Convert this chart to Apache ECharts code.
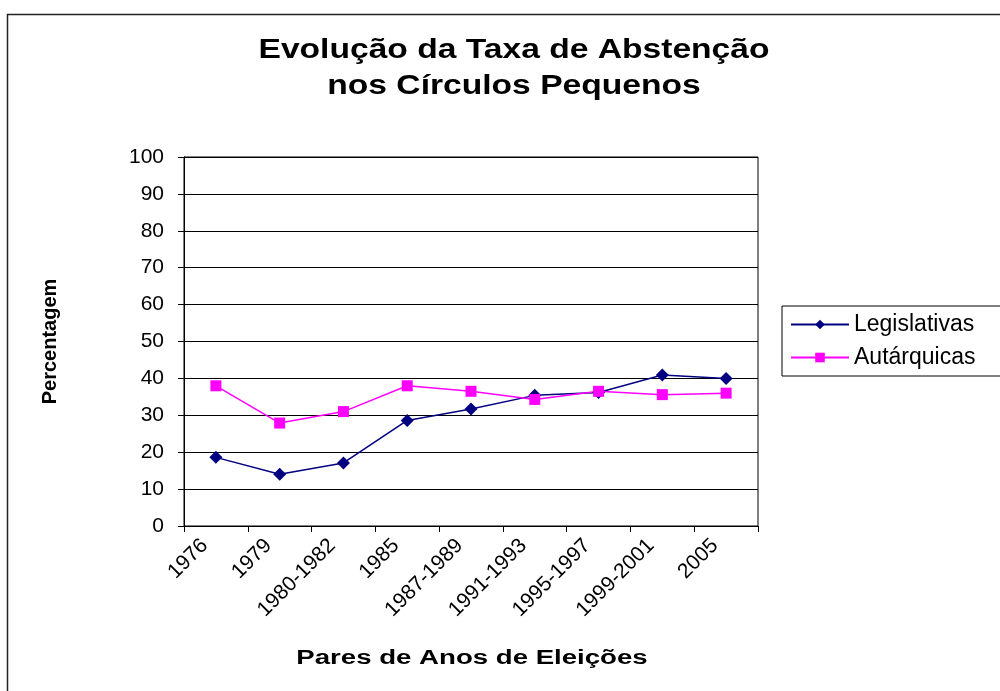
<!DOCTYPE html>
<html>
<head>
<meta charset="utf-8">
<script src="https://cdn.jsdelivr.net/npm/echarts@6/dist/echarts.min.js"></script>
<style>html,body{margin:0;padding:0;background:#fff;}#c{width:1000px;height:691px;}</style>
</head>
<body>
<div id="c"></div>
<script>
var categories = ['1976', '1979', '1980-1982', '1985', '1987-1989', '1991-1993', '1995-1997', '1999-2001', '2005'];
var legislativas = [18.6, 14.0, 17.1, 28.6, 31.7, 35.4, 36.2, 40.9, 40.0];
var autarquicas = [38.0, 27.9, 31.0, 38.0, 36.5, 34.3, 36.5, 35.6, 36.0];
var yTicks = {min: 0, max: 100, interval: 10};
var titleLines = ['Evolução da Taxa de Abstenção', 'nos Círculos Pequenos'];
var xName = 'Pares de Anos de Eleições';
var yName = 'Percentagem';

var FONT = '"Liberation Sans", Arial, sans-serif';
var chart = echarts.init(document.getElementById('c'));
chart.setOption({
  animation: false,
  backgroundColor: '#fff',
  graphic: [{
    type: 'rect', left: 5, top: 12,
    shape: {width: 1100, height: 800},
    style: {fill: 'none', stroke: '#222', lineWidth: 1.5},
    silent: true, z: -10
  }, {
    type: 'text', x: 514, y: 50, scaleX: 1.2,
    style: {text: titleLines[0], font: 'bold 28px ' + FONT, fill: '#000', textAlign: 'center', textVerticalAlign: 'middle'}
  }, {
    type: 'text', x: 514, y: 86, scaleX: 1.2,
    style: {text: titleLines[1], font: 'bold 28px ' + FONT, fill: '#000', textAlign: 'center', textVerticalAlign: 'middle'}
  }, {
    type: 'text', x: 472, y: 658, scaleX: 1.38,
    style: {text: xName, font: 'bold 20px ' + FONT, fill: '#000', textAlign: 'center', textVerticalAlign: 'middle'}
  }],
  legend: {
    orient: 'vertical', left: 782, top: 306,
    borderColor: '#000', borderWidth: 1, padding: [7, 40, 7, 8],
    itemWidth: 58, itemHeight: 12, itemGap: 10,
    textStyle: {fontFamily: FONT, fontSize: 23, color: '#000'},
    data: ['Legislativas', 'Autárquicas']
  },
  grid: {left: 184, right: 242, top: 157, bottom: 165, show: true, borderColor: '#000', borderWidth: 1, backgroundColor: '#fff'},
  xAxis: {
    type: 'category', data: categories, boundaryGap: true,
    axisLine: {lineStyle: {color: '#000', width: 1}},
    axisTick: {show: true, length: 6, lineStyle: {color: '#000'}},
    axisLabel: {rotate: 45, fontFamily: FONT, fontSize: 21, color: '#000', margin: 5, padding: [0, 16, 0, 0], interval: 0}
  },
  yAxis: {
    type: 'value', min: yTicks.min, max: yTicks.max, interval: yTicks.interval,
    name: yName, nameLocation: 'middle', nameGap: 124, nameRotate: 90,
    nameTextStyle: {fontFamily: FONT, fontSize: 20, fontWeight: 'bold', color: '#000'},
    axisLine: {show: true, lineStyle: {color: '#000', width: 1}},
    axisTick: {show: true, length: 6, lineStyle: {color: '#000'}},
    axisLabel: {fontFamily: FONT, fontSize: 21, color: '#000', margin: 20},
    splitLine: {show: true, lineStyle: {color: '#000', width: 1}}
  },
  series: [{
    name: 'Legislativas', type: 'line', data: legislativas,
    symbol: 'diamond', symbolSize: 13,
    lineStyle: {color: '#000080', width: 1.5},
    itemStyle: {color: '#000080'}
  }, {
    name: 'Autárquicas', type: 'line', data: autarquicas,
    symbol: 'rect', symbolSize: 11,
    lineStyle: {color: '#FF00FF', width: 1.5},
    itemStyle: {color: '#FF00FF'}
  }]
});
</script>
</body>
</html>
